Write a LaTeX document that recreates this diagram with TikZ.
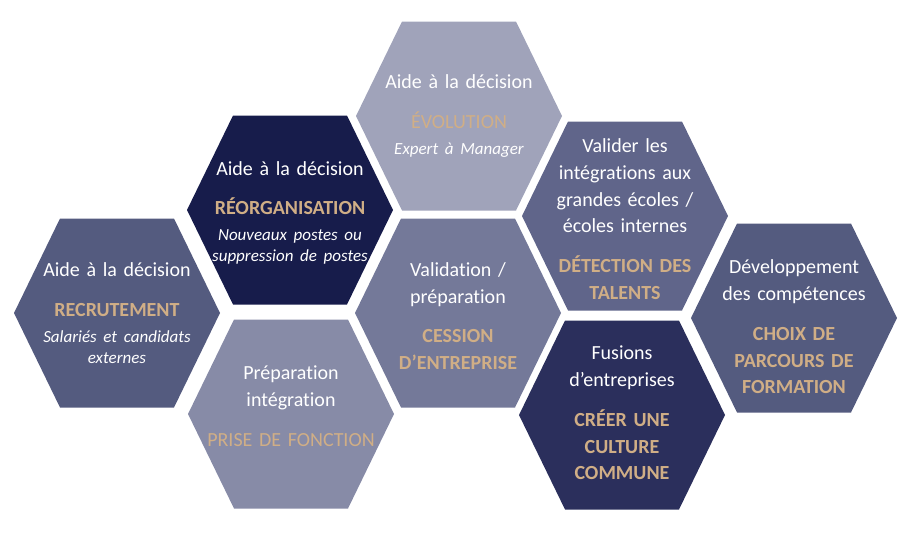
\documentclass[tikz,border=0pt]{standalone}
\usepackage{fontspec}
\setmainfont{Carlito}[Ligatures=NoCommon]
\definecolor{hexslate}{HTML}{545B7F}
\definecolor{hexnavy}{HTML}{171C4B}
\definecolor{hexlilac}{HTML}{878BA7}
\definecolor{hexpale}{HTML}{A0A3BA}
\definecolor{hexmid}{HTML}{747999}
\definecolor{hexsteel}{HTML}{60658A}
\definecolor{hexink}{HTML}{2B2F5C}
\definecolor{accent}{HTML}{D0AE86}
\newcommand{\titre}[2][\bfseries]{\par\vspace{13pt}{\color{accent}#1#2\par}}
\newcommand{\soustitre}[1]{{\itshape\fontsize{17}{21}\selectfont\vspace{5pt}#1\par}}

\begin{document}
\begin{tikzpicture}[x=1pt, y=-1pt,
    hexlabel/.style={text width=200pt, align=center, text=white, inner sep=0pt,
        font=\fontsize{20}{26.7}\selectfont}]
    \useasboundingbox (0,0) rectangle (916,533);

    % cells: centre x / centre y / fill
    \foreach \cx/\cy/\col in {117/313/hexslate, 290/210/hexnavy, 291/414/hexlilac,
        459/116/hexpale, 458/313/hexmid, 625/216/hexsteel, 622/415/hexink, 794/318/hexslate}
        \fill[\col, shift={(\cx,\cy)}] (-103,0) -- (-57,-94.5) -- (57,-94.5) -- (103,0)
            -- (57,94.5) -- (-57,94.5) -- cycle;

    \node[hexlabel] (recrutement) at (117,313) {Aide à la décision
        \titre{RECRUTEMENT}\soustitre{Salariés et candidats\\externes}};
    \node[hexlabel, yshift=-3pt] (reorg) at (290,210) {Aide à la décision
        \titre{RÉORGANISATION}\soustitre{Nouveaux postes ou\\suppression de postes}};
    \node[hexlabel, yshift=8pt] (fonction) at (291,414) {Préparation\\intégration
        \titre[\mdseries]{PRISE DE FONCTION}};
    \node[hexlabel] (evolution) at (459,116) {Aide à la décision
        \titre[\mdseries]{ÉVOLUTION}\soustitre{Expert à Manager}};
    \node[hexlabel, yshift=-3pt] (cession) at (458,313) {Validation /\\préparation
        \titre{CESSION\\D’ENTREPRISE}};
    \node[hexlabel, yshift=-3pt] (talents) at (625,216) {Valider les\\intégrations aux\\grandes écoles /\\écoles internes
        \titre{DÉTECTION DES\\TALENTS}};
    \node[hexlabel, yshift=2pt] (culture) at (622,415) {Fusions\\d’entreprises
        \titre{CRÉER UNE\\CULTURE\\COMMUNE}};
    \node[hexlabel, yshift=-9pt] (parcours) at (794,318) {Développement\\des compétences
        \titre{CHOIX DE\\PARCOURS DE\\FORMATION}};
\end{tikzpicture}
\end{document}
